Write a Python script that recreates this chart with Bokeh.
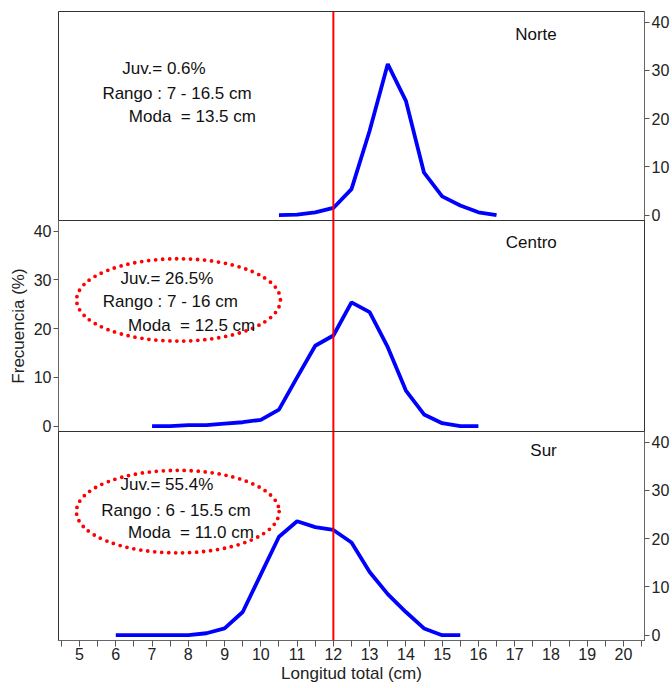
from bokeh.plotting import figure
from bokeh.layouts import column
from bokeh.models import Span, Label, LinearAxis, Range1d, FixedTicker, ColumnDataSource
from bokeh.embed import file_html
from bokeh.resources import INLINE

FONT = "Liberation Sans"

# ---------------- data ----------------
norte_x = [10.5, 11, 11.5, 12, 12.5, 13, 13.5, 14, 14.5, 15, 15.5, 16, 16.5]
norte_y = [0, 0.1, 0.6, 1.5, 5.4, 17.5, 31.3, 23.7, 8.8, 3.9, 2.0, 0.6, 0]

centro_x = [7, 7.5, 8, 8.5, 9, 9.5, 10, 10.5, 11, 11.5, 12, 12.5, 13, 13.5, 14, 14.5, 15, 15.5, 16]
centro_y = [0, 0, 0.2, 0.2, 0.5, 0.8, 1.3, 3.4, 10.0, 16.5, 18.6, 25.4, 23.4, 16.2, 7.3, 2.4, 0.6, 0, 0]

sur_x = [6, 6.5, 7, 7.5, 8, 8.5, 9, 9.5, 10, 10.5, 11, 11.5, 12, 12.5, 13, 13.5, 14, 14.5, 15, 15.5]
sur_y = [0, 0, 0, 0, 0, 0.4, 1.4, 4.8, 12.6, 20.4, 23.6, 22.4, 21.8, 19.2, 13.1, 8.5, 4.8, 1.4, 0, 0]

zones = ["Norte", "Centro", "Sur"]
juv = ["Juv.= 0.6%", "Juv.= 26.5%", "Juv.= 55.4%"]
rango = ["Rango : 7 - 16.5 cm", "Rango : 7 - 16 cm", "Rango : 6 - 15.5 cm"]
moda = ["Moda\u00a0 = 13.5 cm", "Moda\u00a0 = 12.5 cm", "Moda\u00a0 = 11.0 cm"]
talla_juvenil = 12
x_ticks = list(range(5, 21))
x_minor = [t + 0.5 for t in range(4, 21)]
y_ticks = [0, 10, 20, 30, 40]

# ---------------- layout ----------------
FW = 586
OVER = 9
x_range = Range1d(4.42, 20.58)


def style_axis(ax):
    ax.axis_line_color = "#666666"
    ax.major_tick_line_color = "#555555"
    ax.minor_tick_line_color = "#555555"
    ax.major_tick_out = 5
    ax.major_tick_in = 0
    ax.minor_tick_out = 0
    ax.minor_tick_in = 0
    ax.major_label_text_font = FONT
    ax.major_label_text_font_size = "16px"
    ax.major_label_text_color = "#222222"
    ax.major_label_standoff = 2
    ax.axis_label_text_font = FONT
    ax.axis_label_text_font_size = "17px"
    ax.axis_label_text_font_style = "normal"
    ax.axis_label_text_color = "#222222"
    ax.axis_label_standoff = 3


def make_panel(xs, ys, idx, fh, top_border, bottom_border, y_side, bottom_axis):
    p = figure(frame_width=FW, frame_height=fh, x_range=x_range,
               y_range=Range1d(-1.1, 42.2), output_backend="svg",
               toolbar_location=None, x_axis_type=None, y_axis_type=None)
    p.min_border = 0
    p.min_border_left = 58
    p.min_border_right = 26
    p.min_border_top = top_border
    p.min_border_bottom = bottom_border
    p.xgrid.visible = False
    p.ygrid.visible = False
    p.outline_line_color = "#333333"
    p.outline_line_width = 1
    p.background_fill_color = None
    p.border_fill_color = None

    yax = LinearAxis(ticker=FixedTicker(ticks=y_ticks))
    style_axis(yax)
    if y_side == "left":
        yax.axis_label = "Frecuencia (%)"
    p.add_layout(yax, y_side)

    if bottom_axis:
        xax = LinearAxis(ticker=FixedTicker(ticks=x_ticks, minor_ticks=x_minor),
                         axis_label="Longitud total (cm)")
        style_axis(xax)
        xax.major_tick_out = 6
        xax.minor_tick_out = 6
        xax.major_label_standoff = 1
        xax.axis_label_standoff = 1
        p.add_layout(xax, "below")

    p.add_layout(Span(location=talla_juvenil, dimension="height",
                      line_color="#FF0000", line_width=2))

    src = ColumnDataSource(dict(x=xs, y=ys))
    p.line("x", "y", source=src, line_color="#0000FF", line_width=3.8)

    p.add_layout(Label(x=18.16, y=[37.4, 37.7, 38.3][idx], text=zones[idx],
                       text_align="right", text_baseline="middle",
                       text_font=FONT, text_font_size="17px", text_color="#111111"))
    jy = [(30.4, 25.2, 20.4), (30.3, 25.5, 20.6), (31.3, 25.9, 21.2)][idx]
    jx = [(6.18, 5.63, 6.36), (6.13, 5.64, 6.34), (6.13, 5.60, 6.34)][idx]
    for t, x, y in zip([juv[idx], rango[idx], moda[idx]], jx, jy):
        p.add_layout(Label(x=x, y=y, text=t, text_align="left",
                           text_baseline="middle", text_font=FONT,
                           text_font_size="17px", text_color="#111111"))

    if idx > 0:
        ex, ey, ew, eh = [(7.73, 25.9, 5.62, 16.9), (7.71, 25.6, 5.59, 17.1)][idx - 1]
        p.ellipse(x=[ex], y=[ey], width=[ew], height=[eh], fill_color=None,
                  line_color="#FF0000", line_width=3.8, line_dash="0 7",
                  line_cap="round")
    return p


p1 = make_panel(norte_x, norte_y, 0, 209, 11, OVER, "right", False)
p2 = make_panel(centro_x, centro_y, 1, 211, 0, OVER, "left", False)
p3 = make_panel(sur_x, sur_y, 2, 209, 0, 0, "right", True)
p2.margin = (-OVER, 0, 0, 0)
p3.margin = (-OVER, 0, 0, 0)

layout = column(p1, p2, p3, spacing=0)

open("out.html", "w").write(file_html(layout, INLINE))
